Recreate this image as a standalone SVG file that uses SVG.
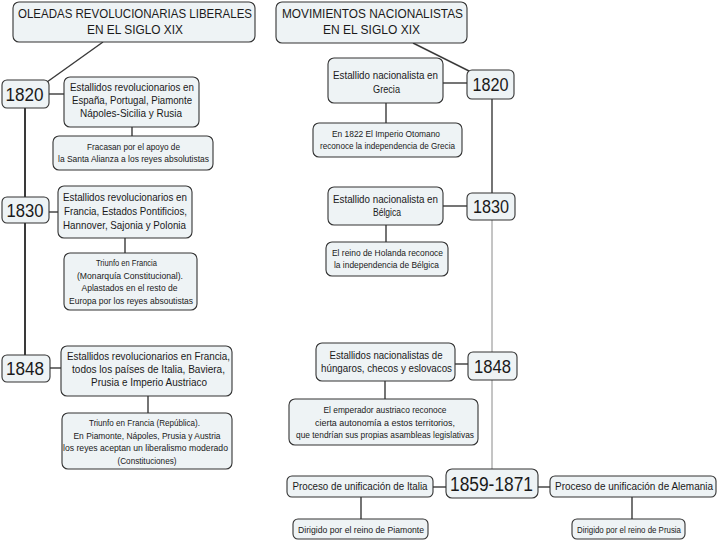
<svg xmlns="http://www.w3.org/2000/svg" width="720" height="540" viewBox="0 0 720 540">
<style>
.b{fill:#eef3f5;stroke:#333333;stroke-width:1.1}
text{font-family:"Liberation Sans",Arial,sans-serif;fill:#1a1a1a;text-anchor:middle}
.t{font-size:13px}
.y{font-size:18px}
.m{font-size:11px}
.n{font-size:9px}
.c line{stroke:#3a3a3a;stroke-width:1.4}
.c line.g{stroke:#8a8a8a;stroke-width:1}
</style>
<rect width="720" height="540" fill="#ffffff"/>
<g class="c" id="connectors">
<line x1="103" y1="42" x2="47" y2="82"/>
<line x1="49" y1="94" x2="64" y2="94"/>
<line x1="132" y1="127" x2="132" y2="136"/>
<line x1="25" y1="108" x2="25" y2="197" style="stroke-width:2"/>
<line x1="49" y1="212" x2="58" y2="212"/>
<line x1="125" y1="238" x2="125" y2="253"/>
<line x1="25" y1="223" x2="25" y2="355" style="stroke-width:2"/>
<line x1="50" y1="368" x2="61" y2="368"/>
<line x1="148" y1="396" x2="148" y2="413"/>
<line x1="413" y1="43" x2="469" y2="71"/>
<line x1="443" y1="83" x2="467" y2="83"/>
<line x1="386" y1="103" x2="386" y2="123"/>
<line x1="492" y1="99" x2="492" y2="193"/>
<line x1="443" y1="206" x2="467" y2="206"/>
<line x1="386" y1="225" x2="386" y2="242"/>
<line class="g" x1="492" y1="220" x2="492" y2="352"/>
<line x1="455" y1="364" x2="468" y2="364"/>
<line x1="385" y1="381" x2="385" y2="399"/>
<line class="g" x1="492" y1="380" x2="492" y2="469"/>
<line x1="433" y1="487" x2="446" y2="487"/>
<line x1="538" y1="487" x2="550" y2="487"/>
<line x1="361" y1="497" x2="361" y2="519"/>
<line x1="632" y1="497" x2="632" y2="519"/>
</g>
<g id="title-left"><rect class="b" x="13" y="2" width="242" height="40" rx="6"/><text class="t" x="135" y="18" textLength="234" lengthAdjust="spacingAndGlyphs">OLEADAS REVOLUCIONARIAS LIBERALES</text><text class="t" x="135" y="34" textLength="96" lengthAdjust="spacingAndGlyphs">EN EL SIGLO XIX</text></g>
<g id="y1820-left"><rect class="b" x="2" y="80" width="47" height="28" rx="5"/><text class="y" x="24.5" y="100.5" textLength="38" lengthAdjust="spacingAndGlyphs">1820</text></g>
<g id="n1"><rect class="b" x="64" y="77" width="135" height="50" rx="6"/><text class="m" x="132" y="91" textLength="124" lengthAdjust="spacingAndGlyphs">Estallidos revolucionarios en</text><text class="m" x="132" y="104" textLength="120" lengthAdjust="spacingAndGlyphs">España, Portugal, Piamonte</text><text class="m" x="131" y="117" textLength="102" lengthAdjust="spacingAndGlyphs">Nápoles-Sicilia y Rusia</text></g>
<g id="n1b"><rect class="b" x="53" y="136" width="160" height="34" rx="6"/><text class="n" x="133.5" y="150" textLength="93" lengthAdjust="spacingAndGlyphs">Fracasan por el apoyo de</text><text class="n" x="133.5" y="162" textLength="151" lengthAdjust="spacingAndGlyphs">la Santa Alianza a los reyes absolutistas</text></g>
<g id="y1830-left"><rect class="b" x="2" y="197" width="47" height="26" rx="5"/><text class="y" x="25" y="216.5" textLength="37" lengthAdjust="spacingAndGlyphs">1830</text></g>
<g id="n2"><rect class="b" x="58" y="186" width="134" height="52" rx="6"/><text class="m" x="125" y="201" textLength="124" lengthAdjust="spacingAndGlyphs">Estallidos revolucionarios en</text><text class="m" x="125.5" y="215" textLength="123" lengthAdjust="spacingAndGlyphs">Francia, Estados Pontificios,</text><text class="m" x="124.5" y="229" textLength="123" lengthAdjust="spacingAndGlyphs">Hannover, Sajonia y Polonia</text></g>
<g id="n2b"><rect class="b" x="64" y="253" width="133" height="57" rx="6"/><text class="n" x="126.5" y="266" textLength="61" lengthAdjust="spacingAndGlyphs">Triunfo en Francia</text><text class="n" x="130" y="278.5" textLength="106" lengthAdjust="spacingAndGlyphs">(Monarquía Constitucional).</text><text class="n" x="129.5" y="291" textLength="96" lengthAdjust="spacingAndGlyphs">Aplastados en el resto de</text><text class="n" x="131" y="303.5" textLength="124" lengthAdjust="spacingAndGlyphs">Europa por los reyes absoutistas</text></g>
<g id="y1848-left"><rect class="b" x="2" y="355" width="48" height="27" rx="5"/><text class="y" x="25" y="375" textLength="38" lengthAdjust="spacingAndGlyphs">1848</text></g>
<g id="n3"><rect class="b" x="61" y="346" width="171" height="50" rx="6"/><text class="m" x="148.5" y="360" textLength="163" lengthAdjust="spacingAndGlyphs">Estallidos revolucionarios en Francia,</text><text class="m" x="148.5" y="373" textLength="153" lengthAdjust="spacingAndGlyphs">todos los países de Italia, Baviera,</text><text class="m" x="149" y="386" textLength="116" lengthAdjust="spacingAndGlyphs">Prusia e Imperio Austriaco</text></g>
<g id="n3b"><rect class="b" x="62" y="413" width="170" height="56" rx="6"/><text class="n" x="144.5" y="426" textLength="111" lengthAdjust="spacingAndGlyphs">Triunfo en Francia (República).</text><text class="n" x="147" y="438.5" textLength="147" lengthAdjust="spacingAndGlyphs">En Piamonte, Nápoles, Prusia y Austria</text><text class="n" x="145.5" y="451" textLength="165" lengthAdjust="spacingAndGlyphs">los reyes aceptan un liberalismo moderado</text><text class="n" x="147" y="463.5" textLength="59" lengthAdjust="spacingAndGlyphs">(Constituciones)</text></g>
<g id="title-right"><rect class="b" x="276" y="2" width="191" height="41" rx="6"/><text class="t" x="372.5" y="18" textLength="181" lengthAdjust="spacingAndGlyphs">MOVIMIENTOS NACIONALISTAS</text><text class="t" x="371.5" y="34" textLength="97" lengthAdjust="spacingAndGlyphs">EN EL SIGLO XIX</text></g>
<g id="y1820-right"><rect class="b" x="467" y="70" width="47" height="29" rx="5"/><text class="y" x="490.5" y="91" textLength="36" lengthAdjust="spacingAndGlyphs">1820</text></g>
<g id="r1"><rect class="b" x="328" y="58" width="115" height="45" rx="6"/><text class="m" x="385.5" y="79" textLength="105" lengthAdjust="spacingAndGlyphs">Estallido nacionalista en</text><text class="m" x="386.5" y="93" textLength="27" lengthAdjust="spacingAndGlyphs">Grecia</text></g>
<g id="r1b"><rect class="b" x="313" y="123" width="149" height="34" rx="6"/><text class="n" x="386" y="137" textLength="108" lengthAdjust="spacingAndGlyphs">En 1822 El Imperio Otomano</text><text class="n" x="387.5" y="149" textLength="135" lengthAdjust="spacingAndGlyphs">reconoce la independencia de Grecia</text></g>
<g id="y1830-right"><rect class="b" x="467" y="193" width="48" height="27" rx="5"/><text class="y" x="491" y="213" textLength="36" lengthAdjust="spacingAndGlyphs">1830</text></g>
<g id="r2"><rect class="b" x="328" y="187" width="115" height="38" rx="6"/><text class="m" x="385.5" y="203" textLength="105" lengthAdjust="spacingAndGlyphs">Estallido nacionalista en</text><text class="m" x="387" y="216" textLength="28" lengthAdjust="spacingAndGlyphs">Bélgica</text></g>
<g id="r2b"><rect class="b" x="326" y="242" width="122" height="34" rx="6"/><text class="n" x="387.5" y="256" textLength="111" lengthAdjust="spacingAndGlyphs">El reino de Holanda reconoce</text><text class="n" x="386.5" y="268" textLength="105" lengthAdjust="spacingAndGlyphs">la independencia de Bélgica</text></g>
<g id="y1848-right"><rect class="b" x="468" y="352" width="49" height="28" rx="5"/><text class="y" x="492.5" y="372.5" textLength="37" lengthAdjust="spacingAndGlyphs">1848</text></g>
<g id="r3"><rect class="b" x="316" y="343" width="139" height="38" rx="6"/><text class="m" x="386" y="359" textLength="113" lengthAdjust="spacingAndGlyphs">Estallidos nacionalistas de</text><text class="m" x="386.5" y="372" textLength="131" lengthAdjust="spacingAndGlyphs">húngaros, checos y eslovacos</text></g>
<g id="r3b"><rect class="b" x="289" y="399" width="189" height="46" rx="6"/><text class="n" x="385" y="413" textLength="123" lengthAdjust="spacingAndGlyphs">El emperador austriaco reconoce</text><text class="n" x="385" y="425.5" textLength="140" lengthAdjust="spacingAndGlyphs">cierta autonomía a estos territorios,</text><text class="n" x="385" y="438" textLength="178" lengthAdjust="spacingAndGlyphs">que tendrían sus propias asambleas legislativas</text></g>
<g id="y1859"><rect class="b" x="446" y="469" width="92" height="29" rx="6"/><text x="491.5" y="491" style="font-size:20.5px" textLength="83" lengthAdjust="spacingAndGlyphs">1859-1871</text></g>
<g id="italia"><rect class="b" x="287" y="476" width="146" height="21" rx="5"/><text x="360" y="490" style="font-size:10px" textLength="135" lengthAdjust="spacingAndGlyphs">Proceso de unificación de Italia</text></g>
<g id="alemania"><rect class="b" x="550" y="476" width="166" height="21" rx="5"/><text x="634" y="490" style="font-size:10px" textLength="158" lengthAdjust="spacingAndGlyphs">Proceso de unificación de Alemania</text></g>
<g id="piamonte"><rect class="b" x="293" y="519" width="135" height="20" rx="5"/><text x="361" y="532.5" style="font-size:9px" textLength="126" lengthAdjust="spacingAndGlyphs">Dirigido por el reino de Piamonte</text></g>
<g id="prusia"><rect class="b" x="572" y="519" width="113" height="20" rx="5"/><text x="629" y="532.5" style="font-size:9px" textLength="104" lengthAdjust="spacingAndGlyphs">Dirigido por el reino de Prusia</text></g>
</svg>
